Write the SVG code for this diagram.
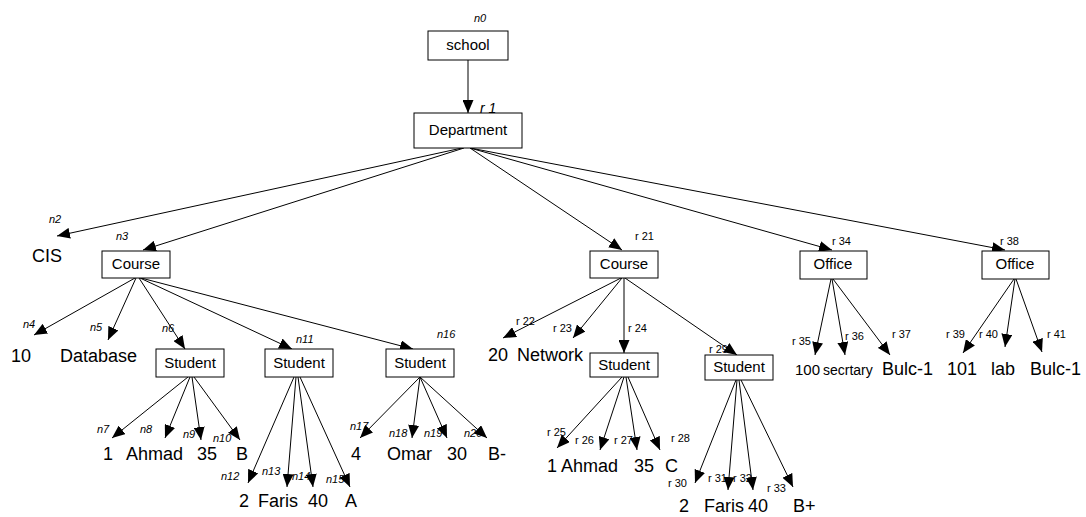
<svg xmlns="http://www.w3.org/2000/svg" width="1086" height="517" viewBox="0 0 1086 517">
<style>
.box{fill:#fff;stroke:#000;stroke-width:1}
.bt{font-family:"Liberation Sans",Arial,sans-serif;font-size:15px;text-anchor:middle;fill:#000}
.lf{font-family:"Liberation Sans",Arial,sans-serif;font-size:18px;fill:#000}
.ni{font-family:"Liberation Sans",Arial,sans-serif;font-size:11px;font-style:italic;fill:#000}
.rl{font-family:"Liberation Sans",Arial,sans-serif;font-size:11px;fill:#000}
.c line{stroke:#000;stroke-width:1;marker-end:url(#ah)}
</style>
<defs>
<marker id="ah" markerUnits="userSpaceOnUse" markerWidth="13" markerHeight="11" refX="13" refY="5.5" orient="auto">
<path d="M0,0 L13,5.5 L0,11 z" fill="#000"/>
</marker>
</defs>
<rect width="1086" height="517" fill="#fff"/>
<g class="c" id="connectors">
<line x1="468" y1="60" x2="468" y2="113"/>
<line x1="462" y1="148" x2="57" y2="236"/>
<line x1="464" y1="148" x2="143" y2="250"/>
<line x1="470" y1="148" x2="622" y2="250"/>
<line x1="470" y1="148" x2="832" y2="250"/>
<line x1="470" y1="148" x2="1005" y2="250"/>
<line x1="135" y1="278" x2="34" y2="335"/>
<line x1="136" y1="278" x2="108" y2="340"/>
<line x1="139" y1="278" x2="185" y2="349"/>
<line x1="140" y1="278" x2="292" y2="349"/>
<line x1="141" y1="278" x2="413" y2="349"/>
<line x1="188" y1="377" x2="112" y2="438"/>
<line x1="190" y1="377" x2="165" y2="438"/>
<line x1="192" y1="377" x2="201" y2="440"/>
<line x1="194" y1="377" x2="240" y2="440"/>
<line x1="294" y1="377" x2="248" y2="483"/>
<line x1="296" y1="377" x2="287" y2="487"/>
<line x1="298" y1="377" x2="313" y2="487"/>
<line x1="300" y1="377" x2="350" y2="487"/>
<line x1="420" y1="377" x2="360" y2="438"/>
<line x1="420" y1="377" x2="412" y2="438"/>
<line x1="420" y1="377" x2="447" y2="438"/>
<line x1="420" y1="377" x2="487" y2="438"/>
<line x1="621" y1="278" x2="503" y2="338"/>
<line x1="622" y1="278" x2="573" y2="338"/>
<line x1="624" y1="278" x2="624" y2="353"/>
<line x1="625" y1="278" x2="737" y2="355"/>
<line x1="622" y1="377" x2="557" y2="448"/>
<line x1="624" y1="377" x2="600" y2="450"/>
<line x1="626" y1="377" x2="637" y2="450"/>
<line x1="628" y1="377" x2="660" y2="450"/>
<line x1="736" y1="380" x2="695" y2="483"/>
<line x1="737" y1="380" x2="728" y2="490"/>
<line x1="739" y1="380" x2="753" y2="490"/>
<line x1="741" y1="380" x2="793" y2="487"/>
<line x1="831" y1="279" x2="815" y2="355"/>
<line x1="832" y1="279" x2="845" y2="355"/>
<line x1="833" y1="279" x2="890" y2="355"/>
<line x1="1014" y1="279" x2="963" y2="353"/>
<line x1="1015" y1="279" x2="1005" y2="347"/>
<line x1="1016" y1="279" x2="1042" y2="352"/>
</g>
<g id="n0"><rect class="box" x="428" y="31" width="80" height="29"/><text class="bt" x="468" y="50">school</text><text class="ni" x="474" y="22">n0</text></g>
<g id="r1"><rect class="box" x="414" y="113" width="108" height="35"/><text class="bt" x="468" y="135">Department</text><text class="ni" x="480" y="113" style="font-size:14px">r 1</text></g>
<g id="n2"><text class="lf" x="32" y="262">CIS</text><text class="ni" x="49" y="223">n2</text></g>
<g id="n3"><rect class="box" x="102" y="251" width="68" height="27"/><text class="bt" x="136" y="269">Course</text><text class="ni" x="116" y="240">n3</text></g>
<g id="n4"><text class="lf" x="11" y="362">10</text><text class="ni" x="23" y="328">n4</text></g>
<g id="n5"><text class="lf" x="60" y="362">Database</text><text class="ni" x="90" y="331">n5</text></g>
<g id="n6"><rect class="box" x="156" y="349" width="68" height="28"/><text class="bt" x="190" y="368">Student</text><text class="ni" x="162" y="332">n6</text></g>
<g id="n7"><text class="lf" x="103" y="460">1</text><text class="ni" x="97" y="433">n7</text></g>
<g id="n8"><text class="lf" x="126" y="460">Ahmad</text><text class="ni" x="140" y="433">n8</text></g>
<g id="n9"><text class="lf" x="197" y="460">35</text><text class="ni" x="183" y="438">n9</text></g>
<g id="n10"><text class="lf" x="236" y="460">B</text><text class="ni" x="213" y="442">n10</text></g>
<g id="n11"><rect class="box" x="265" y="349" width="68" height="28"/><text class="bt" x="299" y="368">Student</text><text class="ni" x="296" y="343">n11</text></g>
<g id="n12"><text class="lf" x="239" y="507">2</text><text class="ni" x="221" y="480">n12</text></g>
<g id="n13"><text class="lf" x="258" y="507">Faris</text><text class="ni" x="262" y="475">n13</text></g>
<g id="n14"><text class="lf" x="308" y="507">40</text><text class="ni" x="292" y="480">n14</text></g>
<g id="n15"><text class="lf" x="345" y="507">A</text><text class="ni" x="326" y="483">n15</text></g>
<g id="n16"><rect class="box" x="386" y="349" width="68" height="28"/><text class="bt" x="420" y="368">Student</text><text class="ni" x="437" y="338">n16</text></g>
<g id="n17"><text class="lf" x="351" y="460">4</text><text class="ni" x="350" y="430">n17</text></g>
<g id="n18"><text class="lf" x="387" y="460">Omar</text><text class="ni" x="389" y="437">n18</text></g>
<g id="n19"><text class="lf" x="447" y="460">30</text><text class="ni" x="424" y="437">n19</text></g>
<g id="n20"><text class="lf" x="488" y="460">B-</text><text class="ni" x="464" y="437">n20</text></g>
<g id="r21"><rect class="box" x="590" y="251" width="68" height="27"/><text class="bt" x="624" y="269">Course</text><text class="rl" x="635" y="240">r 21</text></g>
<g id="r22"><text class="lf" x="488" y="361">20</text><text class="rl" x="516" y="325">r 22</text></g>
<g id="r23"><text class="lf" x="517" y="361">Network</text><text class="rl" x="553" y="332">r 23</text></g>
<g id="r24"><rect class="box" x="590" y="353" width="68" height="24"/><text class="bt" x="624" y="370">Student</text><text class="rl" x="628" y="332">r 24</text></g>
<g id="r25"><text class="lf" x="547" y="472">1</text><text class="rl" x="547" y="436">r 25</text></g>
<g id="r26"><text class="lf" x="561" y="472">Ahmad</text><text class="rl" x="575" y="444">r 26</text></g>
<g id="r27"><text class="lf" x="634" y="472">35</text><text class="rl" x="614" y="444">r 27</text></g>
<g id="r28"><text class="lf" x="665" y="472">C</text><text class="rl" x="671" y="442">r 28</text></g>
<g id="r29"><rect class="box" x="705" y="355" width="68" height="25"/><text class="bt" x="739" y="372">Student</text><text class="rl" x="709" y="353">r 29</text></g>
<g id="r30"><text class="lf" x="679" y="512">2</text><text class="rl" x="668" y="487">r 30</text></g>
<g id="r31"><text class="lf" x="704" y="512">Faris</text><text class="rl" x="708" y="482">r 31</text></g>
<g id="r32"><text class="lf" x="748" y="512">40</text><text class="rl" x="733" y="482">r 32</text></g>
<g id="r33"><text class="lf" x="793" y="512">B+</text><text class="rl" x="767" y="492">r 33</text></g>
<g id="r34"><rect class="box" x="800" y="251" width="67" height="28"/><text class="bt" x="833" y="269">Office</text><text class="rl" x="832" y="245">r 34</text></g>
<g id="r35"><text class="lf" x="795" y="375" style="font-size:15px">100</text><text class="rl" x="792" y="345">r 35</text></g>
<g id="r36"><text class="lf" x="823" y="375" style="font-size:14px">secrtary</text><text class="rl" x="845" y="340">r 36</text></g>
<g id="r37"><text class="lf" x="882" y="375">Bulc-1</text><text class="rl" x="892" y="338">r 37</text></g>
<g id="r38"><rect class="box" x="982" y="251" width="67" height="28"/><text class="bt" x="1015" y="269">Office</text><text class="rl" x="1000" y="245">r 38</text></g>
<g id="r39"><text class="lf" x="947" y="375">101</text><text class="rl" x="946" y="338">r 39</text></g>
<g id="r40"><text class="lf" x="991" y="375">lab</text><text class="rl" x="979" y="338">r 40</text></g>
<g id="r41"><text class="lf" x="1030" y="375">Bulc-1</text><text class="rl" x="1047" y="338">r 41</text></g>
</svg>
